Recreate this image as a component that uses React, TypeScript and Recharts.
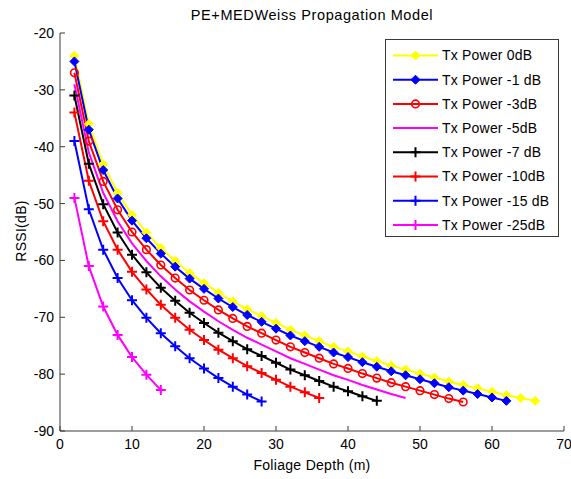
import React from 'react';
import { LineChart, Line, XAxis, YAxis, Legend } from 'recharts';

const titleText = 'PE+MEDWeiss Propagation Model';
const xLabelText = 'Foliage Depth (m)';
const yLabelText = 'RSSI(dB)';

const xTicks = [0, 10, 20, 30, 40, 50, 60, 70];
const yTicks = [-90, -80, -70, -60, -50, -40, -30, -20];

const depth = [2, 4, 6, 8, 10, 12, 14, 16, 18, 20, 22, 24, 26, 28, 30, 32, 34, 36, 38, 40, 42, 44, 46, 48, 50, 52, 54, 56, 58, 60, 62, 64, 66];

const tx0 = [-24, -36.0, -43.1, -48.1, -52.0, -55.1, -57.8, -60.1, -62.2, -64.0, -65.7, -67.2, -68.6, -69.8, -71.0, -72.2, -73.2, -74.2, -75.2, -76.0, -76.9, -77.7, -78.5, -79.2, -79.9, -80.6, -81.3, -81.9, -82.5, -83.1, -83.7, -84.2, -84.7];
const tx1 = [-25, -37.0, -44.1, -49.1, -53.0, -56.1, -58.8, -61.1, -63.2, -65.0, -66.7, -68.2, -69.6, -70.8, -72.0, -73.2, -74.2, -75.2, -76.2, -77.0, -77.9, -78.7, -79.5, -80.2, -80.9, -81.6, -82.3, -82.9, -83.5, -84.1, -84.7];
const tx3 = [-27, -39.0, -46.1, -51.1, -55.0, -58.1, -60.8, -63.1, -65.2, -67.0, -68.7, -70.2, -71.6, -72.8, -74.0, -75.2, -76.2, -77.2, -78.2, -79.0, -79.9, -80.7, -81.5, -82.2, -82.9, -83.6, -84.3, -84.9];
const tx5 = [-29, -41.0, -48.1, -53.1, -57.0, -60.1, -62.8, -65.1, -67.2, -69.0, -70.7, -72.2, -73.6, -74.8, -76.0, -77.2, -78.2, -79.2, -80.2, -81.0, -81.9, -82.7, -83.5, -84.2];
const tx7 = [-31, -43.0, -50.1, -55.1, -59.0, -62.1, -64.8, -67.1, -69.2, -71.0, -72.7, -74.2, -75.6, -76.8, -78.0, -79.2, -80.2, -81.2, -82.2, -83.0, -83.9, -84.7];
const tx10 = [-34, -46.0, -53.1, -58.1, -62.0, -65.1, -67.8, -70.1, -72.2, -74.0, -75.7, -77.2, -78.6, -79.8, -81.0, -82.2, -83.2, -84.2];
const tx15 = [-39, -51.0, -58.1, -63.1, -67.0, -70.1, -72.8, -75.1, -77.2, -79.0, -80.7, -82.2, -83.6, -84.8];
const tx25 = [-49, -61.0, -68.1, -73.1, -77.0, -80.1, -82.8];

type Marker = 'diamond' | 'circle' | 'none' | 'plus';

const seriesNames = ['Tx Power 0dB', 'Tx Power -1 dB', 'Tx Power -3dB', 'Tx Power -5dB', 'Tx Power -7 dB', 'Tx Power -10dB', 'Tx Power -15 dB', 'Tx Power -25dB'];
const seriesValues = [tx0, tx1, tx3, tx5, tx7, tx10, tx15, tx25];
const seriesColors = ['#FFFF00', '#0000FF', '#FF0000', '#FF00FF', '#000000', '#FF0000', '#0000FF', '#FF00FF'];
const seriesMarkers: Marker[] = ['diamond', 'diamond', 'circle', 'none', 'plus', 'plus', 'plus', 'plus'];

const FONT = '"Liberation Sans", Arial, Helvetica, sans-serif';
const AXIS_COLOR = '#3a3a3a';

function markerShape(kind: Marker, cx: number, cy: number, color: string, key?: any) {
  if (kind === 'diamond') {
    return <path key={key} d={`M${cx},${cy - 4.5}L${cx + 4.5},${cy}L${cx},${cy + 4.5}L${cx - 4.5},${cy}Z`} fill={color} stroke={color} strokeWidth={1} />;
  }
  if (kind === 'circle') {
    return <circle key={key} cx={cx} cy={cy} r={3.8} fill="none" stroke={color} strokeWidth={1.6} />;
  }
  if (kind === 'plus') {
    return <path key={key} d={`M${cx - 5},${cy}H${cx + 5}M${cx},${cy - 5}V${cy + 5}`} stroke={color} strokeWidth={2} fill="none" />;
  }
  return <g key={key} />;
}

function makeDot(kind: Marker, color: string) {
  if (kind === 'none') return false;
  return (props: any) => {
    const { cx, cy, key, index } = props;
    if (cx == null || cy == null) return <g key={key ?? index} />;
    return markerShape(kind, cx, cy, color, key ?? index);
  };
}

const seriesData = seriesValues.map((vals) => vals.map((v, i) => ({ x: depth[i], y: v })));

function LegendBox() {
  const rowStart = 15.5;
  const rowGap = 24.2;
  return (
    <div
      style={{
        width: 174,
        height: 198,
        boxSizing: 'border-box',
        border: `1px solid ${AXIS_COLOR}`,
        background: '#ffffff',
        position: 'relative',
      }}
    >
      <svg width={172} height={196} style={{ position: 'absolute', left: 0, top: 0 }}>
        {seriesNames.map((name, i) => {
          const y = rowStart + i * rowGap;
          return (
            <g key={name}>
              <line x1={7} x2={52} y1={y} y2={y} stroke={seriesColors[i]} strokeWidth={2} />
              {markerShape(seriesMarkers[i], 29.5, y, seriesColors[i])}
              <text x={56} y={y} dy="0.35em" fontFamily={FONT} fontSize={14} letterSpacing={0.2} fill="#000">
                {name}
              </text>
            </g>
          );
        })}
      </svg>
    </div>
  );
}

export default function App() {
  return (
    <div style={{ position: 'absolute', left: 0, top: 0, width: 571, height: 479, background: '#ffffff', fontFamily: FONT }}>
      <div
        style={{
          position: 'absolute',
          left: 60,
          width: 504,
          top: 6,
          textAlign: 'center',
          fontSize: 14.5,
          letterSpacing: 0.6,
          lineHeight: '18px',
          color: '#000',
        }}
      >
        {titleText}
      </div>
      <div
        style={{
          position: 'absolute',
          left: 21,
          top: 231,
          transform: 'translate(-50%, -50%) rotate(-90deg)',
          fontSize: 14,
          letterSpacing: 0.3,
          whiteSpace: 'nowrap',
          color: '#000',
        }}
      >
        {yLabelText}
      </div>
      <div
        style={{
          position: 'absolute',
          left: 60,
          width: 504,
          top: 456,
          textAlign: 'center',
          fontSize: 14,
          letterSpacing: 0.3,
          lineHeight: '18px',
          color: '#000',
        }}
      >
        {xLabelText}
      </div>
      <LineChart width={571} height={479} margin={{ top: 33, right: 7, bottom: 0, left: 0 }}>
        <XAxis
          xAxisId={0}
          dataKey="x"
          type="number"
          domain={[0, 70]}
          ticks={xTicks}
          allowDataOverflow
          height={48}
          stroke={AXIS_COLOR}
          tickSize={-5}
          tickMargin={13}
          tick={{ fill: '#000', fontSize: 14, fontFamily: FONT }}
        />
        <XAxis
          xAxisId="top"
          orientation="top"
          type="number"
          domain={[0, 70]}
          ticks={xTicks}
          allowDataOverflow
          height={0}
          stroke={AXIS_COLOR}
          tickSize={-5}
          tick={false}
        />
        <YAxis
          yAxisId={0}
          type="number"
          domain={[-90, -20]}
          ticks={yTicks}
          allowDataOverflow
          width={60}
          stroke={AXIS_COLOR}
          tickSize={-5}
          tickMargin={11}
          tick={{ fill: '#000', fontSize: 14, fontFamily: FONT }}
        />
        <YAxis
          yAxisId="right"
          orientation="right"
          type="number"
          domain={[-90, -20]}
          ticks={yTicks}
          allowDataOverflow
          width={0}
          stroke={AXIS_COLOR}
          tickSize={-5}
          tick={false}
        />
        {seriesNames.map((name, i) => (
          <Line
            key={name}
            name={name}
            xAxisId={0}
            yAxisId={0}
            data={seriesData[i]}
            dataKey="y"
            type="linear"
            stroke={seriesColors[i]}
            strokeWidth={2}
            dot={makeDot(seriesMarkers[i], seriesColors[i]) as any}
            activeDot={false}
            isAnimationActive={false}
          />
        ))}
        <Legend
          layout="vertical"
          align="center"
          verticalAlign="middle"
          wrapperStyle={{ left: 385, top: 39, width: 174, height: 198, right: 'auto', bottom: 'auto' }}
          content={() => <LegendBox />}
        />
      </LineChart>
    </div>
  );
}
